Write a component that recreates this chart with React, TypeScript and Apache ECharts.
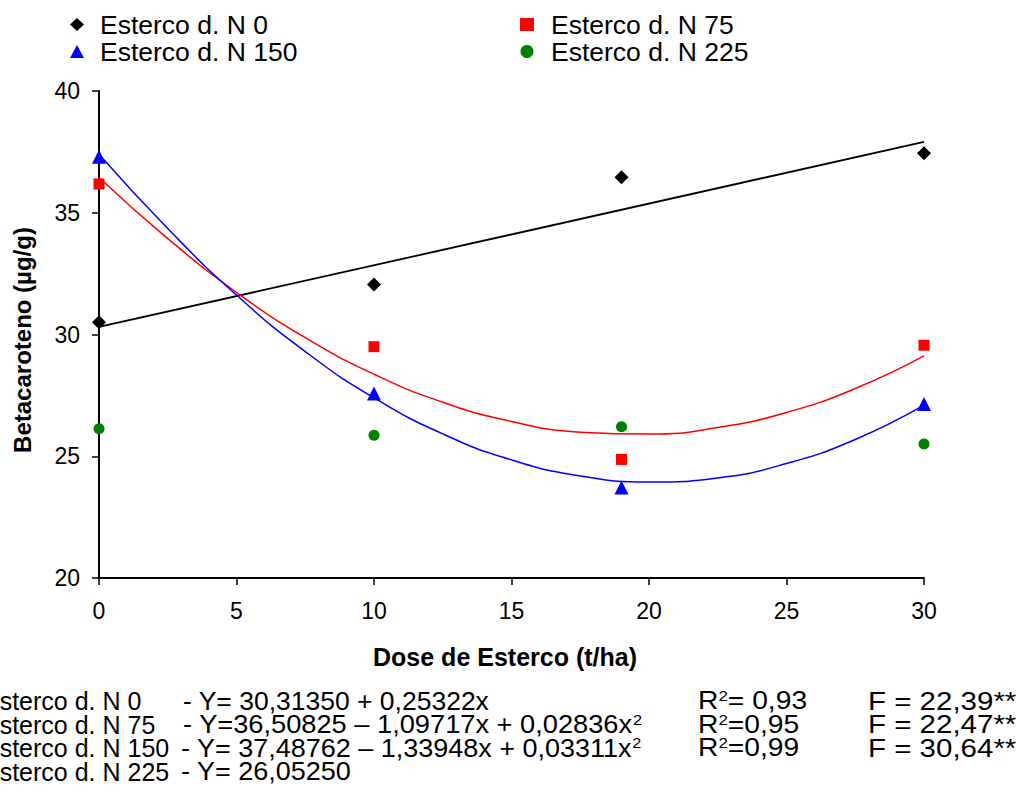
import React, { useEffect, useRef } from "react";
import * as echarts from "echarts";

const FONT = 'Arial, "Liberation Sans", sans-serif';

// Observed data
const doses = [0, 10, 19, 30];
const n0Values = [30.5, 32.05, 36.46, 37.44];
const n75Values = [36.18, 29.5, 24.87, 29.56];
const n150Values = [37.3, 27.58, 23.72, 27.15];
const n225Values = [26.13, 25.86, 26.21, 25.5];

// Fitted curves as drawn in the chart
const fitX = [0, 2.5, 5, 7.5, 10, 12.5, 15, 17.5, 20, 22.5, 25, 27.5, 30];
const fitN75 = [36.45, 33.94, 31.73, 29.87, 28.37, 27.22, 26.43, 25.99, 25.91, 26.18, 26.8, 27.78, 29.12];
const fitN150 = [37.4, 34.35, 31.62, 29.3, 27.4, 25.92, 24.85, 24.19, 23.94, 24.11, 24.7, 25.69, 27.1];
const fitN0X = [0, 30];
const fitN0 = [30.31, 37.91];

const seriesNames = ["Esterco d. N 0", "Esterco d. N 75", "Esterco d. N 150", "Esterco d. N 225"];
const xTicks = { min: 0, max: 30, interval: 5 };
const yTicks = { min: 20, max: 40, interval: 5 };

const eqNames = ["Esterco d. N 0", "Esterco d. N 75", "Esterco d. N 150", "Esterco d. N 225"];
const eqTexts = [
  "- Y= 30,31350 + 0,25322x",
  "- Y=36,50825 – 1,09717x + 0,02836x",
  "- Y= 37,48762 – 1,33948x + 0,03311x",
  "- Y= 26,05250",
];
const eqSquared = [false, true, true, false];
const r2Values = ["= 0,93", "=0,95", "=0,99"];
const fValues = ["F = 22,39**", "F = 22,47**", "F = 30,64**"];

const zip = (xs: number[], ys: number[]) => xs.map((x, i) => [x, ys[i]]);

export default function App() {
  const ref = useRef<HTMLDivElement>(null);
  useEffect(() => {
    if (!ref.current) return;
    const chart = echarts.init(ref.current, undefined, { renderer: "svg" });
    const lineY = [701, 724.5, 748, 771.5];
    const eqX = [183, 183, 181, 181];
    const eqScale = [1.06, 1.09, 1.08, 1.08];
    const txtStyle = { fontFamily: FONT, fontSize: 25, fill: "#000" };
    const rich = {
      a: { fontFamily: FONT, fontSize: 25, color: "#000", lineHeight: 25 },
      s: { fontFamily: FONT, fontSize: 15, color: "#000", lineHeight: 15, verticalAlign: "top" as const },
    };
    const graphics: any[] = [
      {
        type: "text",
        x: 22,
        y: 340,
        rotation: Math.PI / 2,
        style: { text: "Betacaroteno (µg/g)", fontFamily: FONT, fontSize: 24, fontWeight: "bold", fill: "#000", align: "center", verticalAlign: "middle" },
      },
      {
        type: "text",
        x: 505,
        y: 657,
        style: { text: "Dose de Esterco (t/ha)", fontFamily: FONT, fontSize: 25, fontWeight: "bold", fill: "#000", align: "center", verticalAlign: "middle" },
      },
    ];
    eqNames.forEach((n, i) => {
      graphics.push({ type: "text", x: -17, y: lineY[i], style: { ...txtStyle, text: n, verticalAlign: "middle" } });
      graphics.push({
        type: "text", x: eqX[i], y: lineY[i], scaleX: eqScale[i],
        style: eqSquared[i]
          ? { text: `{a|${eqTexts[i]}}{s|2}`, rich, verticalAlign: "middle" }
          : { ...txtStyle, text: eqTexts[i], verticalAlign: "middle" },
      });
    });
    r2Values.forEach((r, i) => {
      graphics.push({
        type: "text", x: 698, y: lineY[i], scaleX: 1.13,
        style: { text: `{a|R}{s|2}{a|${r}}`, rich, verticalAlign: "middle" },
      });
      graphics.push({ type: "text", x: 868, y: lineY[i], scaleX: 1.18, style: { ...txtStyle, text: fValues[i], verticalAlign: "middle" } });
    });

    const legendCommon = {
      orient: "vertical" as const,
      itemWidth: 14,
      itemHeight: 13,
      itemGap: 0,
      textStyle: { fontFamily: FONT, fontSize: 26.5, color: "#000", lineHeight: 26.5 },
      top: 6,
    };

    chart.setOption({
      animation: false,
      backgroundColor: "#fff",
      grid: { left: 99, right: 97, top: 91, bottom: 227, containLabel: false },
      legend: [
        { ...legendCommon, left: 65, data: [seriesNames[0], seriesNames[2]], textStyle: { ...legendCommon.textStyle, padding: [0, 0, 0, 11] } },
        { ...legendCommon, left: 515, data: [seriesNames[1], seriesNames[3]], textStyle: { ...legendCommon.textStyle, padding: [0, 0, 0, 12] } },
      ],
      xAxis: {
        type: "value",
        ...xTicks,
        axisLine: { show: true, lineStyle: { color: "#000", width: 2 } },
        axisTick: { show: true, inside: false, length: 7, lineStyle: { color: "#000", width: 1.5 } },
        splitLine: { show: false },
        axisLabel: { fontFamily: FONT, fontSize: 23, color: "#000", margin: 21 },
      },
      yAxis: {
        type: "value",
        ...yTicks,
        axisLine: { show: true, lineStyle: { color: "#000", width: 2 } },
        axisTick: { show: true, inside: false, length: 7, lineStyle: { color: "#000", width: 1.5 } },
        splitLine: { show: false },
        axisLabel: { fontFamily: FONT, fontSize: 23, color: "#000", margin: 19 },
      },
      graphic: graphics,
      series: [
        { name: "fitN0", type: "line", data: zip(fitN0X, fitN0), symbol: "none", lineStyle: { color: "#000", width: 1.8 }, z: 2 },
        { name: "fitN75", type: "line", data: zip(fitX, fitN75), smooth: true, symbol: "none", lineStyle: { color: "#ff0000", width: 1.5 }, z: 2 },
        { name: "fitN150", type: "line", data: zip(fitX, fitN150), smooth: true, symbol: "none", lineStyle: { color: "#0000ff", width: 1.5 }, z: 2 },
        { name: seriesNames[0], type: "scatter", data: zip(doses, n0Values), symbol: "diamond", symbolSize: 14, itemStyle: { color: "#000", opacity: 1 }, z: 5 },
        { name: seriesNames[1], type: "scatter", data: zip(doses, n75Values), symbol: "rect", symbolSize: 11, itemStyle: { color: "#ff0000", opacity: 1 }, z: 5 },
        { name: seriesNames[2], type: "scatter", data: zip(doses, n150Values), symbol: "triangle", symbolSize: 14, itemStyle: { color: "#0000ff", opacity: 1 }, z: 5 },
        { name: seriesNames[3], type: "scatter", data: zip(doses, n225Values), symbol: "circle", symbolSize: 11, itemStyle: { color: "#008000", opacity: 1 }, z: 5 },
      ],
    });
    return () => chart.dispose();
  }, []);
  return <div ref={ref} style={{ width: 1021, height: 805, position: "fixed", left: 0, top: 0 }} />;
}
